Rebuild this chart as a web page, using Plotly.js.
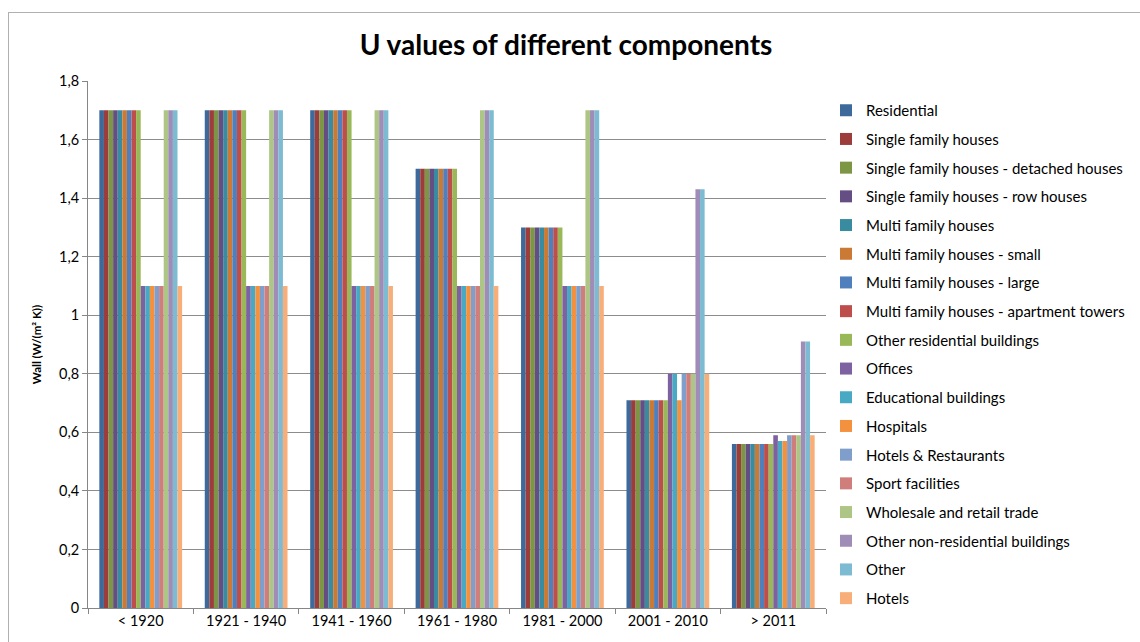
<!DOCTYPE html>
<html>
<head>
<meta charset="utf-8">
<script src="https://cdn.plot.ly/plotly-3.0.1.min.js"></script>
<style>
  html, body { margin:0; padding:0; background:#fff; }
  #wrap { position:relative; width:1140px; height:642px; overflow:hidden; }
  #chart { position:absolute; left:0; top:0; width:1140px; height:642px; }
  #frame { position:absolute; left:8px; top:12px; width:1200px; height:700px; border:1px solid #b0b0b0; pointer-events:none; }
</style>
</head>
<body>
<div id="wrap"><div id="chart"></div><div id="frame"></div></div>
<script>
const categories = ["< 1920", "1921 - 1940", "1941 - 1960", "1961 - 1980", "1981 - 2000", "2001 - 2010", "> 2011"];

const seriesNames = [
  "Residential", "Single family houses", "Single family houses - detached houses",
  "Single family houses - row houses", "Multi family houses", "Multi family houses - small",
  "Multi family houses - large", "Multi family houses - apartment towers", "Other residential buildings",
  "Offices", "Educational buildings", "Hospitals", "Hotels & Restaurants", "Sport facilities",
  "Wholesale and retail trade", "Other non-residential buildings", "Other", "Hotels"
];

const residential      = [1.7, 1.7, 1.7, 1.5, 1.3, 0.71, 0.56];
const singleFamily     = [1.7, 1.7, 1.7, 1.5, 1.3, 0.71, 0.56];
const sfDetached       = [1.7, 1.7, 1.7, 1.5, 1.3, 0.71, 0.56];
const sfRow            = [1.7, 1.7, 1.7, 1.5, 1.3, 0.71, 0.56];
const multiFamily      = [1.7, 1.7, 1.7, 1.5, 1.3, 0.71, 0.56];
const mfSmall          = [1.7, 1.7, 1.7, 1.5, 1.3, 0.71, 0.56];
const mfLarge          = [1.7, 1.7, 1.7, 1.5, 1.3, 0.71, 0.56];
const mfTowers         = [1.7, 1.7, 1.7, 1.5, 1.3, 0.71, 0.56];
const otherResidential = [1.7, 1.7, 1.7, 1.5, 1.3, 0.71, 0.56];
const offices          = [1.1, 1.1, 1.1, 1.1, 1.1, 0.80, 0.59];
const educational      = [1.1, 1.1, 1.1, 1.1, 1.1, 0.80, 0.57];
const hospitals        = [1.1, 1.1, 1.1, 1.1, 1.1, 0.71, 0.57];
const hotelsRest       = [1.1, 1.1, 1.1, 1.1, 1.1, 0.80, 0.59];
const sport            = [1.1, 1.1, 1.1, 1.1, 1.1, 0.80, 0.59];
const wholesale        = [1.7, 1.7, 1.7, 1.7, 1.7, 0.80, 0.59];
const otherNonRes      = [1.7, 1.7, 1.7, 1.7, 1.7, 1.43, 0.91];
const other            = [1.7, 1.7, 1.7, 1.7, 1.7, 1.43, 0.91];
const hotels           = [1.1, 1.1, 1.1, 1.1, 1.1, 0.80, 0.59];

const seriesValues = [residential, singleFamily, sfDetached, sfRow, multiFamily, mfSmall,
  mfLarge, mfTowers, otherResidential, offices, educational, hospitals, hotelsRest, sport,
  wholesale, otherNonRes, other, hotels];

const colors = ["#3D6A9B", "#9C3D3B", "#7D9646", "#654E83", "#398BA0", "#CB7A35",
  "#4F7FBC", "#BE4E4B", "#99B958", "#7D61A0", "#48A9C4", "#F4913F",
  "#7F9ECB", "#CF7E7C", "#AEC685", "#9F8DB7", "#7DBBD2", "#F8AE79"];

const FONT = "Lato, 'Open Sans', sans-serif";

const traces = seriesNames.map((name, i) => ({
  type: "bar",
  name: name,
  x: categories,
  y: seriesValues[i],
  legendgroup: "g" + i,
  marker: { color: colors[i], line: { width: 0 } },
  hoverinfo: "skip"
}));

const layout = {
  width: 1140, height: 642,
  paper_bgcolor: "#fff", plot_bgcolor: "#fff",
  margin: { l: 88, r: 314, t: 81, b: 34 },
  separators: ",.",
  font: { family: FONT, size: 14, color: "#000" },
  title: {
    text: "<b>U values of different components</b>",
    font: { family: FONT, size: 28, color: "#000" },
    x: 566 / 1140, xanchor: "center", xref: "container",
    y: 1 - 45 / 642, yanchor: "middle", yref: "container"
  },
  barmode: "group",
  bargap: 0.215,
  bargroupgap: 0,
  showlegend: true,
  legend: {
    x: 826 / 1140, xref: "container", xanchor: "left",
    y: 1 - 94 / 642, yref: "container", yanchor: "top",
    maxheight: 560,
    font: { family: FONT, size: 15, color: "#000" },
    tracegroupgap: 6.2,
    traceorder: "grouped",
    bgcolor: "rgba(0,0,0,0)"
  },
  xaxis: {
    type: "category",
    showline: true, linecolor: "#868686", linewidth: 1,
    ticks: "outside", tickson: "boundaries", ticklen: 5, tickcolor: "#868686",
    tickfont: { family: FONT, size: 14.5, color: "#000" },
    showgrid: false, zeroline: false
  },
  yaxis: {
    range: [0, 1.8], dtick: 0.2, tick0: 0,
    showline: true, linecolor: "#868686", linewidth: 1,
    ticks: "outside", ticklen: 5, tickcolor: "#868686",
    tickfont: { family: FONT, size: 14.5, color: "#000" },
    showgrid: true, gridcolor: "#8c8c8c", gridwidth: 1,
    zeroline: false,
    title: { text: "<b>Wall (W/(m² K))</b>", font: { family: FONT, size: 11.5, color: "#000" }, standoff: 14 }
  }
};

Plotly.newPlot("chart", traces, layout, { displayModeBar: false, staticPlot: true });
</script>
</body>
</html>
